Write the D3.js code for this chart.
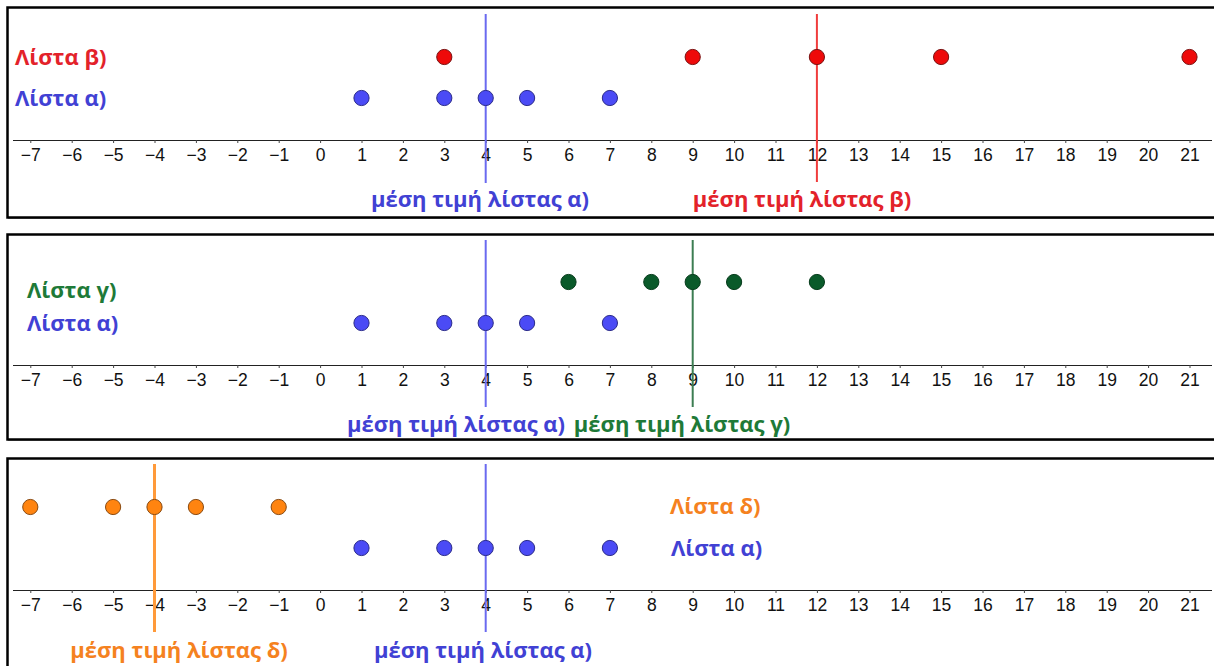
<!DOCTYPE html>
<html><head><meta charset="utf-8">
<script src="https://cdn.jsdelivr.net/npm/d3@7"></script>
<style>body{margin:0;background:#fff}svg{display:block}</style>
</head><body>
<script>
const ticks = d3.range(-7, 22);
const listA = [1, 3, 4, 5, 7];
const listB = [3, 9, 12, 15, 21];
const listC = [6, 8, 9, 10, 12];
const listD = [-7, -5, -4, -3, -1];
const meanA = 4, meanB = 12, meanC = 9, meanD = -4;

const W = 1214, H = 666;
const svg = d3.select("body").append("svg").attr("width", W).attr("height", H);
const x = d3.scaleLinear().domain([1, 21]).range([361.5, 1189.5]);

const C = {
  blue: {fill: "#4b4bf5", stroke: "#2a2a8a", line: "#6a6af0", text: "#4141d4"},
  red: {fill: "#ee0a0a", stroke: "#7a1010", line: "#f03c3c", text: "#e3222a"},
  green: {fill: "#0a5a2a", stroke: "#053a1a", line: "#3c7d52", text: "#1e7a38"},
  orange: {fill: "#ff8410", stroke: "#8a4a10", line: "#ff9a3a", text: "#f5821f"}
};

const panels = [
  {top: 7, bottom: 217, axisY: 140,
   rows: [{data: listB, y: 57, c: C.red}, {data: listA, y: 98, c: C.blue}],
   names: [{t: "Λίστα β)", x: 15, y: 57, c: C.red}, {t: "Λίστα α)", x: 15, y: 98, c: C.blue}],
   means: [{v: meanA, c: C.blue, w: 2, y1: 14, y2: 183}, {v: meanB, c: C.red, w: 2, y1: 14, y2: 182}],
   mlabels: [{t: "μέση τιμή λίστας α)", x: 480, y: 199, c: C.blue, anchor: "middle"},
             {t: "μέση τιμή λίστας β)", x: 802, y: 199, c: C.red, anchor: "middle"}]},
  {top: 234, bottom: 439, axisY: 365,
   rows: [{data: listC, y: 282, c: C.green}, {data: listA, y: 323, c: C.blue}],
   names: [{t: "Λίστα γ)", x: 27, y: 290, c: C.green}, {t: "Λίστα α)", x: 27, y: 323, c: C.blue}],
   means: [{v: meanA, c: C.blue, w: 2, y1: 240, y2: 407}, {v: meanC, c: C.green, w: 2, y1: 240, y2: 407}],
   mlabels: [{t: "μέση τιμή λίστας α)", x: 456, y: 424, c: C.blue, anchor: "middle"},
             {t: "μέση τιμή λίστας γ)", x: 682, y: 424, c: C.green, anchor: "middle"}]},
  {top: 458, bottom: 680, axisY: 590,
   rows: [{data: listD, y: 507, c: C.orange}, {data: listA, y: 548, c: C.blue}],
   names: [{t: "Λίστα δ)", x: 670, y: 506, c: C.orange}, {t: "Λίστα α)", x: 671, y: 548, c: C.blue}],
   means: [{v: meanD, c: C.orange, w: 3, y1: 464, y2: 632}, {v: meanA, c: C.blue, w: 2, y1: 464, y2: 632}],
   mlabels: [{t: "μέση τιμή λίστας δ)", x: 179, y: 650, c: C.orange, anchor: "middle"},
             {t: "μέση τιμή λίστας α)", x: 483, y: 650, c: C.blue, anchor: "middle"}]}
];

panels.forEach(p => {
  const g = svg.append("g");
  g.append("rect").attr("x", 8.5).attr("y", p.top + 1.5).attr("width", 1210).attr("height", p.bottom - p.top)
    .attr("fill", "none").attr("stroke", "#9a9a9a").attr("stroke-width", 1);
  g.append("rect").attr("x", 7.5).attr("y", p.top + 0.5).attr("width", 1210).attr("height", p.bottom - p.top)
    .attr("fill", "#fff").attr("stroke", "#000").attr("stroke-width", 2.5);

  const axis = d3.axisBottom(x).tickValues(ticks).tickSize(3).tickPadding(6)
    .tickFormat(d => d < 0 ? "\u2212" + Math.abs(d) : String(d));
  const ag = g.append("g").attr("transform", `translate(0,${p.axisY})`).call(axis);
  ag.select(".domain").attr("d", `M13,0.5H1212`).attr("stroke", "#222").attr("stroke-width", 1);
  ag.selectAll(".tick line").attr("stroke", "#444");
  ag.selectAll(".tick text").attr("font-family", "Liberation Sans, Arial, sans-serif")
    .attr("font-size", 17.5).attr("fill", "#111");

  p.means.forEach(m => {
    g.append("line").attr("x1", x(m.v)).attr("x2", x(m.v)).attr("y1", m.y1).attr("y2", m.y2)
      .attr("stroke", m.c.line).attr("stroke-width", m.w);
  });

  p.rows.forEach(r => {
    g.selectAll(null).data(r.data).join("circle")
      .attr("cx", d => x(d)).attr("cy", r.y).attr("r", 7.6)
      .attr("fill", r.c.fill).attr("stroke", r.c.stroke).attr("stroke-width", 1);
  });

  p.names.forEach(n => {
    g.append("text").attr("x", n.x).attr("y", n.y).attr("dy", "0.35em")
      .attr("font-family", "Open Sans, sans-serif").attr("font-weight", "bold").attr("font-size", 22)
      .attr("fill", n.c.text).text(n.t);
  });
  p.mlabels.forEach(n => {
    g.append("text").attr("x", n.x).attr("y", n.y).attr("dy", "0.35em").attr("text-anchor", n.anchor)
      .attr("font-family", "Open Sans, sans-serif").attr("font-weight", "bold").attr("font-size", 22)
      .attr("fill", n.c.text).text(n.t);
  });
});
</script>
</body></html>
